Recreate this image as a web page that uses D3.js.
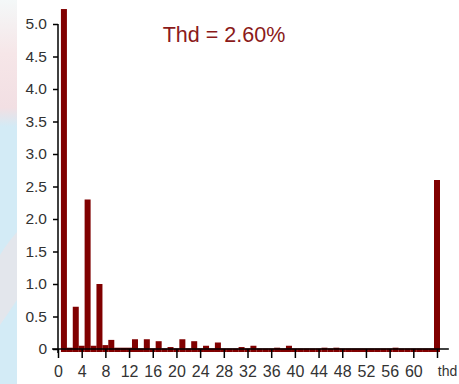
<!DOCTYPE html>
<html>
<head>
<meta charset="utf-8">
<script src="https://cdn.jsdelivr.net/npm/d3@7"></script>
<style>
  body { margin: 0; background: #fff; }
  svg { display: block; font-family: Arial, "Liberation Sans", sans-serif; }
</style>
</head>
<body>
<script>
// harmonic amplitudes in %, harmonics 1..63
var harmonics = [5.23, 0.02, 0.65, 0.05, 2.30, 0.05, 1.00, 0.06, 0.14, 0.02,
    0.02, 0.02, 0.15, 0.01, 0.15, 0.01, 0.12, 0.01, 0.03, 0.01,
    0.15, 0.01, 0.12, 0.01, 0.05, 0.01, 0.10, 0.01, 0.01, 0.01,
    0.03, 0.01, 0.05, 0.01, 0.01, 0.01, 0.02, 0.01, 0.05, 0.01,
    0.01, 0.01, 0.01, 0.01, 0.02, 0.01, 0.02, 0.01, 0.01, 0.01,
    0.01, 0.01, 0.01, 0.01, 0.01, 0.01, 0.02, 0.01, 0.01, 0.01,
    0.01, 0.01, 0.01];
var thd = 2.60;
var yTicks = [0, 0.5, 1.0, 1.5, 2.0, 2.5, 3.0, 3.5, 4.0, 4.5, 5.0];
var xTicks = [0, 4, 8, 12, 16, 20, 24, 28, 32, 36, 40, 44, 48, 52, 56, 60, 64];

var width = 459, height = 384;
var barColor = "#800000";

var svg = d3.select("body").append("svg")
    .attr("width", width)
    .attr("height", height);

// faded background strip on the left
var defs = svg.append("defs");
var grad = defs.append("linearGradient").attr("id", "bg")
    .attr("x1", 0).attr("y1", 0).attr("x2", 0).attr("y2", 1);
grad.append("stop").attr("offset", "0%").attr("stop-color", "#f4f8f8");
grad.append("stop").attr("offset", "14%").attr("stop-color", "#f6e6e8");
grad.append("stop").attr("offset", "28%").attr("stop-color", "#f2dfe3");
grad.append("stop").attr("offset", "33%").attr("stop-color", "#d3ebf6");
grad.append("stop").attr("offset", "100%").attr("stop-color", "#d3ebf6");
svg.append("rect").attr("x", 0).attr("y", 0).attr("width", 17).attr("height", height)
    .attr("fill", "url(#bg)");
svg.append("path")
    .attr("d", "M0,255 C6,245 12,238 17,232 L17,300 C10,310 5,318 0,325 Z")
    .attr("fill", "#e9e4e8").attr("opacity", 0.7);

var x = d3.scaleLinear().domain([0, 64]).range([58, 437]);
var y = d3.scaleLinear().domain([0, 5]).range([349, 24]);

var bars = harmonics.map((v, i) => ({ pos: i + 1, value: v }));
bars.push({ pos: 64, value: thd });

var barW = 6;
svg.append("g")
    .selectAll("rect")
    .data(bars)
    .enter().append("rect")
    .attr("x", d => x(d.pos) - barW / 2)
    .attr("y", d => y(d.value))
    .attr("width", barW)
    .attr("height", d => y(0) - y(d.value) + 3)
    .attr("fill", barColor);

// y axis
var gy = svg.append("g")
    .attr("transform", "translate(" + x(0) + ",0)")
    .call(d3.axisLeft(y)
        .tickValues(yTicks)
        .tickSize(5)
        .tickPadding(6)
        .tickFormat(d => d === 0 ? "0" : d.toFixed(1)));
gy.select(".domain").remove();
gy.append("line")
    .attr("x1", 0).attr("x2", 0)
    .attr("y1", y(5)).attr("y2", y(0) + 4)
    .attr("stroke", "#000").attr("stroke-width", 1.5);
gy.selectAll(".tick line").attr("stroke", "#000").attr("stroke-width", 1.5);
gy.selectAll(".tick text").attr("fill", "#333").style("font-size", "15.5px");

// x axis
var gx = svg.append("g")
    .attr("transform", "translate(0," + y(0) + ")")
    .call(d3.axisBottom(x)
        .tickValues(xTicks)
        .tickSize(9)
        .tickPadding(8)
        .tickFormat(d => d === 64 ? "thd" : d));
gx.select(".domain").remove();
gx.append("line")
    .attr("x1", x(-1)).attr("x2", x(66))
    .attr("y1", 0).attr("y2", 0)
    .attr("stroke", "#000").attr("stroke-width", 1.5);
gx.selectAll(".tick line").attr("stroke", "#000").attr("stroke-width", 1.5);
gx.selectAll(".tick text").attr("fill", "#333").style("font-size", "16px");
gx.selectAll(".tick").filter(d => d === 64).select("text")
    .style("font-size", "14px").attr("dx", 10);

// title
svg.append("text")
    .attr("x", 224)
    .attr("y", 42)
    .attr("text-anchor", "middle")
    .attr("fill", "#8b1a1a")
    .style("font-size", "21.5px")
    .text("Thd = " + thd.toFixed(2) + "%");
</script>
</body>
</html>
